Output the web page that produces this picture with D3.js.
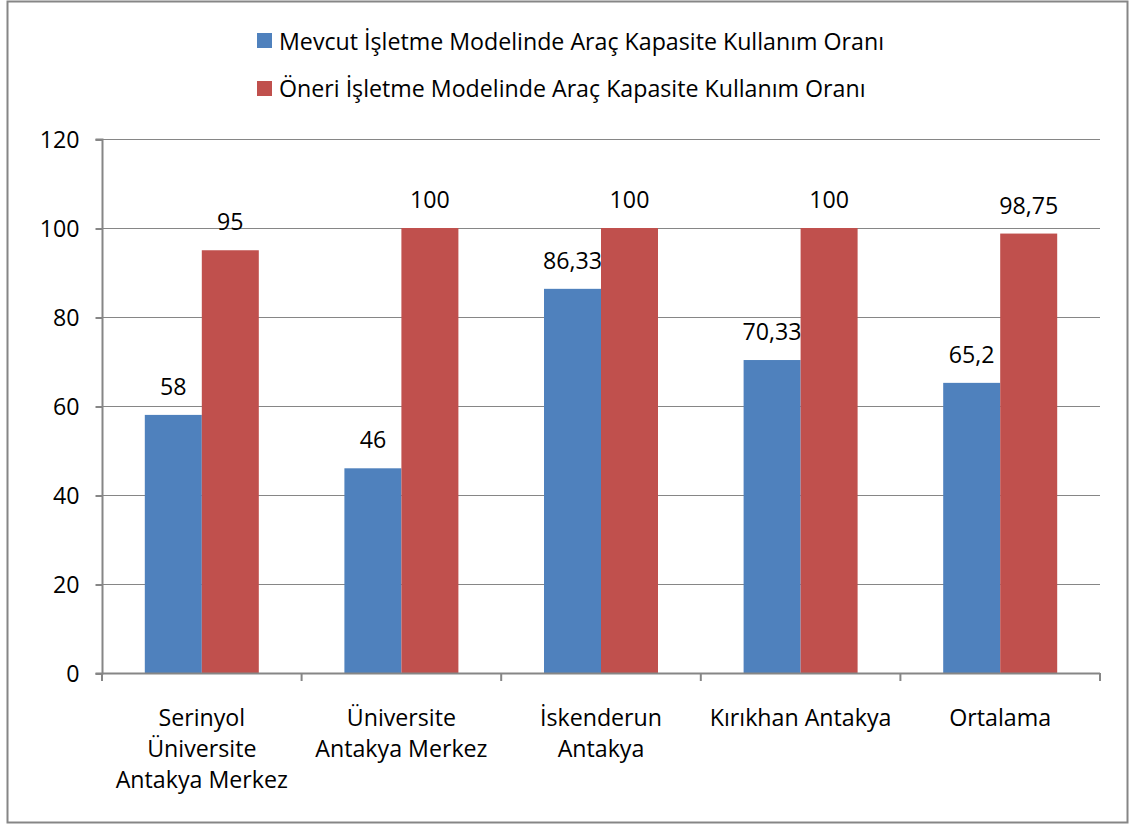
<!DOCTYPE html>
<html><head><meta charset="utf-8">
<script src="https://cdn.jsdelivr.net/npm/d3@7"></script>
<style>body{margin:0;background:#fff}svg{display:block}text{font-family:"Open Sans",sans-serif}</style>
</head><body><svg id="c" width="1131" height="826"></svg>
<script>
const categories = [["Serinyol","Üniversite","Antakya Merkez"],["Üniversite","Antakya Merkez"],["İskenderun","Antakya"],["Kırıkhan Antakya"],["Ortalama"]];
const seriesNames = ["Mevcut İşletme Modelinde Araç Kapasite Kullanım Oranı","Öneri İşletme Modelinde Araç Kapasite Kullanım Oranı"];
const mevcut = [58, 46, 86.33, 70.33, 65.2];
const oneri = [95, 100, 100, 100, 98.75];
const labelsMevcut = ["58","46","86,33","70,33","65,2"];
const labelsOneri = ["95","100","100","100","98,75"];
const yTicks = [0,20,40,60,80,100,120];
const colors = ["#4F81BD","#C0504D"];
const FS = 23.2;

const svg = d3.select("#c");
svg.append("rect").attr("x",7.5).attr("y",1.5).attr("width",1120).attr("height",821)
  .attr("fill","#fff").attr("stroke","#868686").attr("stroke-width",2);

const x0 = d3.scaleBand().domain(d3.range(categories.length)).range([102,1100]);
const y = d3.scaleLinear().domain([0,120]).range([673,139]);
const bw = x0.bandwidth();
const barW = 57;
const gap = (bw - 2*barW)/2;
const x1 = d3.scaleBand().domain([0,1]).range([gap, gap+2*barW]);

svg.append("g").selectAll("line").data(yTicks.slice(1)).join("line")
  .attr("x1",102).attr("x2",1100).attr("y1",d=>y(d)+0.5).attr("y2",d=>y(d)+0.5)
  .attr("stroke","#868686").attr("stroke-width",1);

const data = [mevcut, oneri];
const labels = [labelsMevcut, labelsOneri];
data.forEach((s,si)=>{
  const g = svg.append("g");
  g.selectAll("rect").data(s).join("rect")
    .attr("x",(d,i)=>x0(i)+x1(si)).attr("width",x1.bandwidth())
    .attr("y",d=>y(d)).attr("height",d=>y(0)-y(d)).attr("fill",colors[si]);
  g.selectAll("text").data(s).join("text")
    .attr("x",(d,i)=>x0(i)+x1(si)+x1.bandwidth()/2).attr("y",d=>y(d)-20)
    .attr("text-anchor","middle").attr("font-size",FS).attr("fill","#000")
    .text((d,i)=>labels[si][i]);
});

const yAxis = d3.axisLeft(y).tickValues(yTicks).tickSize(7).tickPadding(16).tickFormat(d3.format("d"));
const ya = svg.append("g").attr("transform","translate(102.5,0.5)").call(yAxis);
ya.select(".domain").attr("stroke","#868686").attr("stroke-width",2).attr("d","M-7,"+y(120)+"H0V"+y(0)+"H-7");
ya.selectAll(".tick line").attr("stroke","#868686").attr("stroke-width",2);
ya.selectAll(".tick text").attr("font-size",FS).attr("fill","#000").attr("dy","0.36em").attr("font-family","'Open Sans',sans-serif");

const xb = d3.range(categories.length+1).map(i=>102+i*bw);
svg.append("line").attr("x1",102).attr("x2",1100).attr("y1",673.5).attr("y2",673.5).attr("stroke","#868686").attr("stroke-width",2);
svg.append("g").selectAll("line").data(xb).join("line")
  .attr("x1",d=>d).attr("x2",d=>d).attr("y1",673).attr("y2",681).attr("stroke","#868686").attr("stroke-width",2);
const xl = svg.append("g").selectAll("text").data(categories).join("text")
  .attr("x",(d,i)=>x0(i)+bw/2).attr("y",725.5).attr("text-anchor","middle").attr("font-size",FS).attr("fill","#000");
xl.each(function(d){
  const t = d3.select(this);
  d.forEach((line,j)=>t.append("tspan").attr("x",t.attr("x")).attr("dy",j?31:0).text(line));
});

const lg = svg.append("g");
seriesNames.forEach((n,i)=>{
  lg.append("rect").attr("x",257).attr("y",33+i*48).attr("width",15).attr("height",15).attr("fill",colors[i]);
  lg.append("text").attr("x",279).attr("y",49.5+i*47.5).attr("font-size",FS).attr("fill","#000").text(n);
});
</script></body></html>
